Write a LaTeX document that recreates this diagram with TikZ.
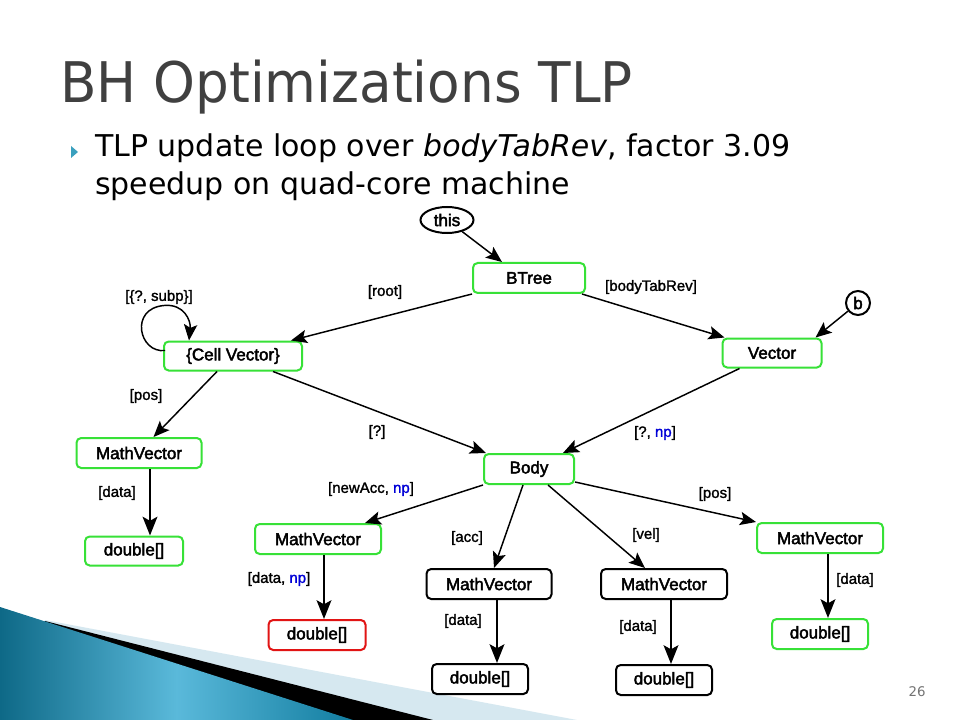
\documentclass[tikz,border=0pt]{standalone}
\usepackage{fontspec}
\setmainfont{DejaVu Sans}
\newfontfamily\nodefont{Liberation Sans}[FakeBold=2.5]
\newfontfamily\labfont{Liberation Sans}[FakeBold=1.5]
\usetikzlibrary{arrows.meta,calc,shapes.geometric}
\definecolor{gbox}{RGB}{55,225,55}
\definecolor{rboxc}{RGB}{225,20,20}
\definecolor{npblue}{RGB}{0,0,215}
\definecolor{titlegray}{RGB}{64,64,64}
\definecolor{bullet}{RGB}{58,160,190}
\definecolor{lightband}{RGB}{214,232,240}
\definecolor{tealA}{RGB}{14,105,135}
\definecolor{tealB}{RGB}{90,185,218}
\definecolor{tealC}{RGB}{18,125,160}
\newcommand{\np}{\textcolor{npblue}{np}}
\begin{document}
\begin{tikzpicture}[x=0.75pt,y=-0.75pt,
  >={Stealth[length=12pt,width=10pt,inset=2.5pt]},
  box/.style={draw=gbox, line width=1.5pt, rounded corners=3.5pt, minimum height=22.5pt, inner sep=0pt, fill=white, font=\nodefont\fontsize{12.75}{14}\selectfont},
  bw/.style={minimum width=#1*0.75pt},
  kbox/.style={box, draw=black},
  rbox/.style={box, draw=rboxc},
  lab/.style={inner sep=0pt, font=\labfont\fontsize{11.25}{13}\selectfont},
  arr/.style={->, line width=1.1pt},
  varr/.style={-{Stealth[length=14pt,width=11pt,inset=3pt]}, line width=2pt}]
\useasboundingbox (0,0) rectangle (960,720);
\fill[white] (0,0) rectangle (960,720);

% bottom-left decoration
\fill[lightband] (45,620) -- (577,720) -- (0,720) -- cycle;
\fill[black] (45,621) -- (433,720) -- (0,720) -- cycle;
\shade[left color=tealA, right color=tealC, middle color=tealB] (0,607) -- (353,720) -- (0,720) -- cycle;

% title
\node[anchor=base west, inner sep=0pt, text=titlegray, font=\fontsize{42}{50}\selectfont] (title) at (60,103) {\scalebox{0.95}[1]{BH Optimizations TLP}};

% bullet text
\fill[bullet] (71,146) -- (78,152) -- (71,158) -- cycle;
\node[anchor=base west, inner sep=0pt, font=\fontsize{22.5}{26}\selectfont] (line1) at (95,157) {TLP update loop over \textit{bodyTabRev}, factor 3.09};
\node[anchor=base west, inner sep=0pt, font=\fontsize{22.5}{26}\selectfont] (line2) at (95,195) {speedup on quad-core machine};

% page number
\node[inner sep=0pt, text=black!55, font=\fontsize{10}{12}\selectfont] (pnum) at (917,692) {26};

% nodes
\node[ellipse, draw, line width=1.5pt, minimum width=39.75pt, minimum height=19.5pt, inner sep=0pt, font=\nodefont\fontsize{12.75}{14}\selectfont] (this) at (447,220) {this};
\node[box, bw=112] (btree) at (529,278) {BTree};
\node[box, bw=138, minimum height=21.75pt] (cell) at (233,356) {\{Cell Vector\}};
\node[box, bw=99, minimum height=21.75pt] (vector) at (772,353) {Vector};
\node[circle, draw, line width=1.5pt, minimum size=18pt, inner sep=0pt, font=\nodefont\fontsize{12.75}{14}\selectfont] (b) at (858,303) {b};
\node[box, bw=90] (body) at (529,469) {Body};
\node[box, bw=125] (mvl) at (139,453) {MathVector};
\node[box, bw=98, minimum height=21.75pt] (dl) at (134,551) {double[]};
\node[box, bw=126] (mvn) at (318,539) {MathVector};
\node[rbox, bw=97] (dred) at (317,635) {double[]};
\node[kbox, bw=125] (mva) at (489,584) {MathVector};
\node[kbox, bw=96] (da) at (480,679) {double[]};
\node[kbox, bw=126] (mvv) at (664,584) {MathVector};
\node[kbox, bw=96] (dv) at (664,680) {double[]};
\node[box, bw=126] (mvp) at (820,538) {MathVector};
\node[box, bw=96] (dp) at (820,634) {double[]};

% labels
\node[lab] (lsubp) at (159,297) {[\{?, subp\}]};
\node[lab] (lroot) at (385,292) {[root]};
\node[lab] (lbtr) at (651,287) {[bodyTabRev]};
\node[lab] (lpos1) at (146,396) {[pos]};
\node[lab] (lq) at (377,432) {[?]};
\node[lab] (lqnp) at (655,433) {[?, \np]};
\node[lab] (ldata1) at (117,493) {[data]};
\node[lab] (lnewacc) at (371,489) {[newAcc, \np]};
\node[lab] (lpos2) at (715,494) {[pos]};
\node[lab] (lacc) at (467,538) {[acc]};
\node[lab] (lvel) at (646,535) {[vel]};
\node[lab] (ldatanp) at (279,579) {[data, \np]};
\node[lab] (ldata2) at (855,580) {[data]};
\node[lab] (ldata3) at (463,621) {[data]};
\node[lab] (ldata4) at (638,627) {[data]};

% connectors
\draw[arr] (this) -- ($(btree.north west)+(30,0)$);
\draw[arr] (btree.south west) -- ($(cell.north east)+(-12,0)$);
\draw[arr] ($(btree.south east)+(-4,0)$) -- ($(vector.north west)+(3,0)$);
\draw[arr] (b) -- ($(vector.north east)+(-7,0)$);
\draw[arr] ($(vector.south west)+(18,0)$) -- ($(body.north east)+(-12,0)$);
\draw[arr] ($(cell.south east)+(-30,0)$) -- ($(body.north west)+(3,0)$);
\draw[arr] ($(cell.south west)+(54,0)$) -- ($(mvl.north west)+(78,0)$);
\draw[arr] ($(cell.north west)+(2,10)$) .. controls ($(cell.north west)+(-24,13)$) and ($(cell.north west)+(-34,-32)$) .. ($(cell.north west)+(1,-35)$) .. controls ($(cell.north west)+(21,-37)$) and ($(cell.north west)+(28,-20)$) .. ($(cell.north west)+(26,0)$);
\draw[arr] (body.south west) -- ($(mvn.north east)+(-17,0)$);
\draw[arr] ($(body.south)+(-6,0)$) -- ($(mva.north)+(5,0)$);
\draw[arr] ($(body.south)+(19,0)$) -- ($(mvv.north west)+(45,0)$);
\draw[arr] ($(body.south east)+(0,-3)$) -- (mvp.north west);
\draw[varr] ($(mvl.south)+(11,0)$) -- ($(dl.north)+(16,0)$);
\draw[varr] ($(mvn.south)+(6,0)$) -- ($(dred.north)+(7,0)$);
\draw[varr] ($(mva.south)+(8,0)$) -- ($(da.north)+(17,0)$);
\draw[varr] ($(mvv.south)+(7,0)$) -- ($(dv.north)+(7,0)$);
\draw[varr] ($(mvp.south)+(8,0)$) -- ($(dp.north)+(8,0)$);
\end{tikzpicture}
\end{document}
